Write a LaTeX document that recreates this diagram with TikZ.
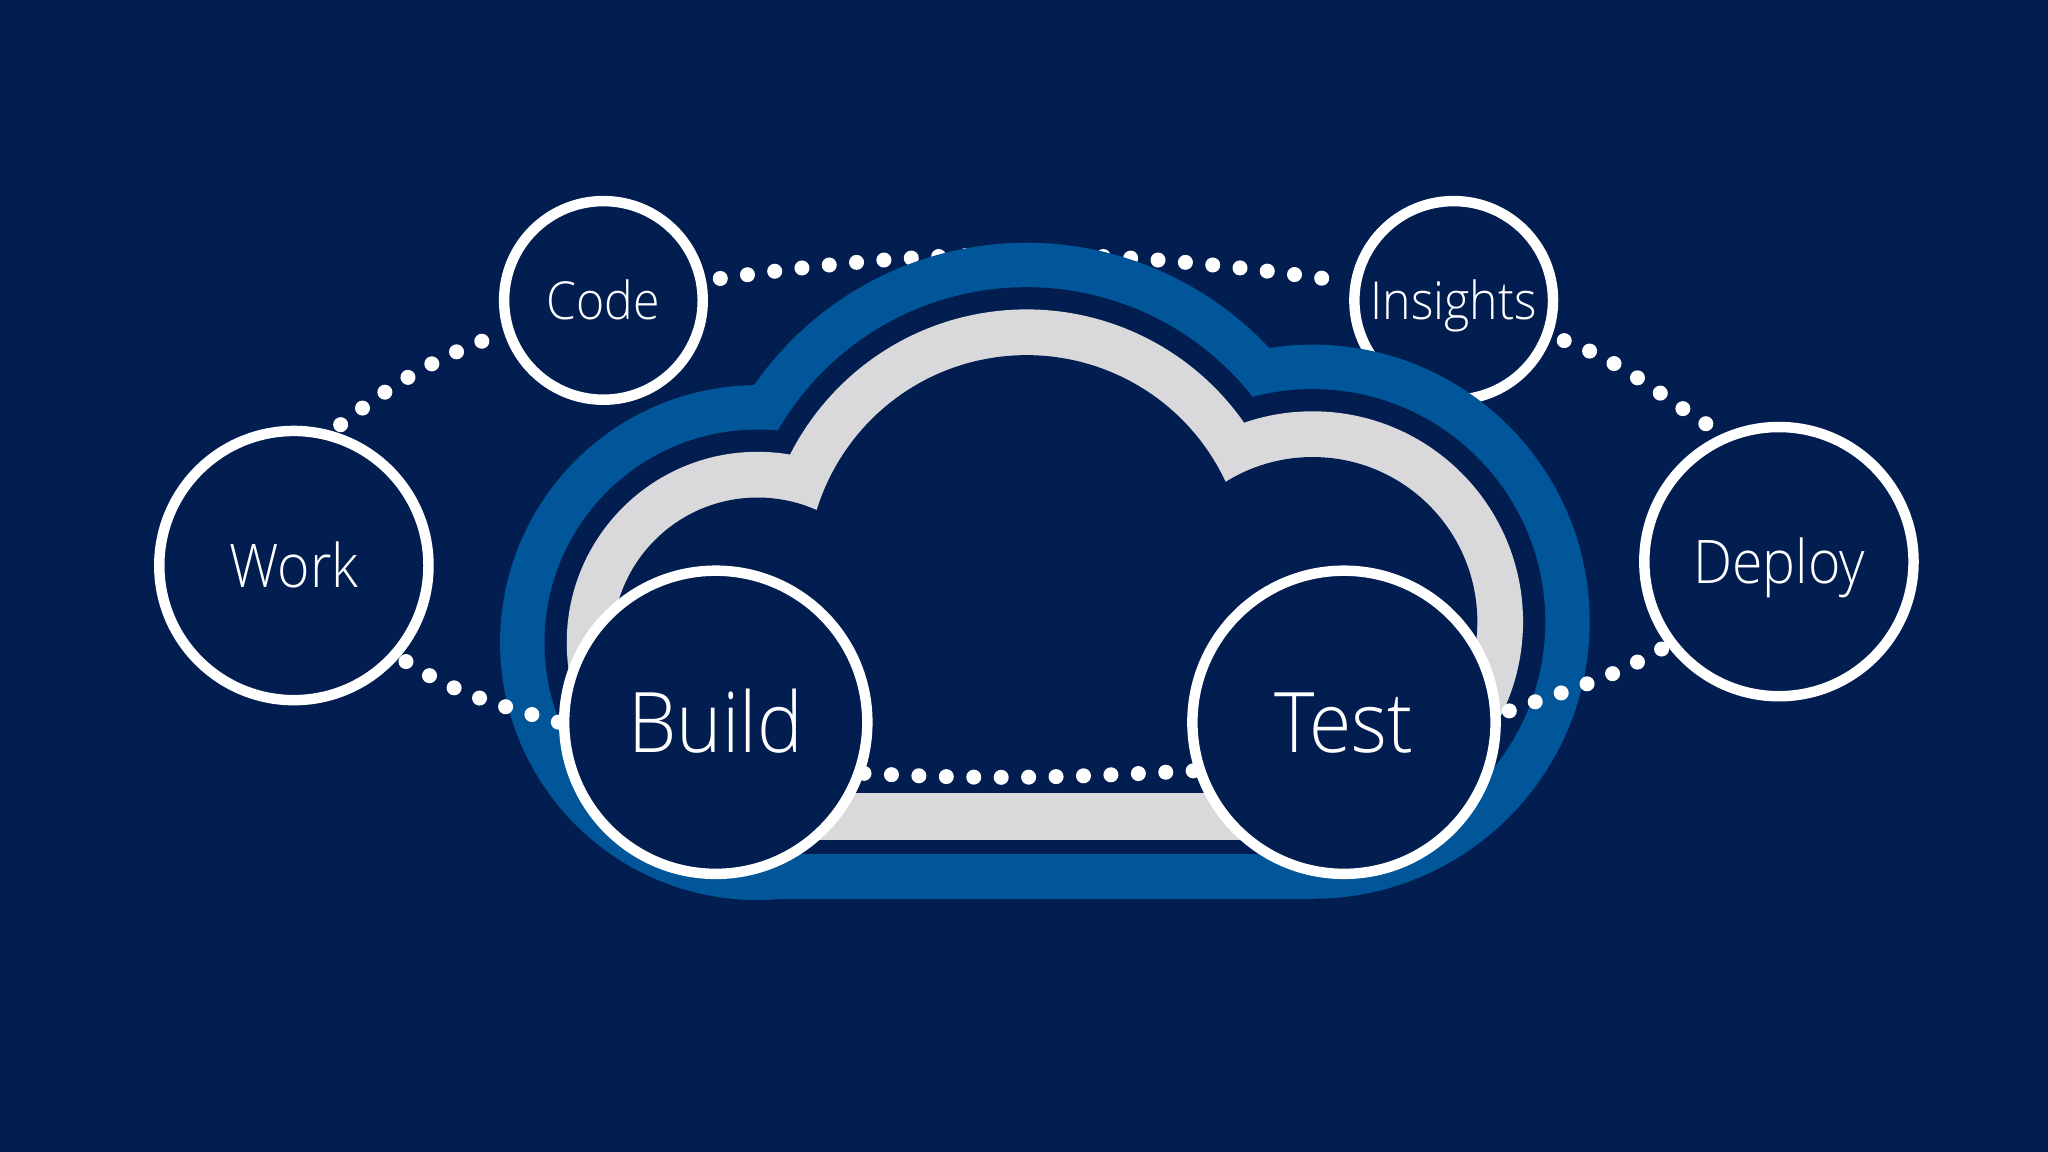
\documentclass[tikz,border=0pt]{standalone}
\usepackage{fontspec}
\IfFontExistsTF{Open Sans Light}{\setmainfont{Open Sans Light}[FakeStretch=0.92]}{\setmainfont{Open Sans}[FakeStretch=0.92]}
\definecolor{bgnavy}{RGB}{2,30,80}
\definecolor{cloudblue}{RGB}{0,86,152}
\definecolor{cloudgray}{RGB}{217,217,220}
\pgfdeclarelayer{lzero}
\pgfdeclarelayer{lone}
\pgfdeclarelayer{ltwo}
\pgfdeclarelayer{lthree}
\pgfsetlayers{lzero,lone,ltwo,lthree,main}
\tikzset{
  dotline/.style={white, line width=0.115cm, line cap=round, dash pattern=on 0pt off 0.21cm},
  stage/.style={circle, draw=white, line width=0.08cm, fill=bgnavy, text=white, inner sep=0pt, text depth=0pt},
  smallstage/.style={stage, minimum size=1.52cm, font=\fontsize{11.4}{13}\selectfont, text height=8.1pt},
  midstage/.style={stage, minimum size=2.06cm, font=\fontsize{13.1}{15}\selectfont, text height=9.35pt},
  bigstage/.style={stage, minimum size=2.32cm, font=\fontsize{18.2}{20}\selectfont, text height=13pt},
}
\newcommand\cloudlayer[5]{%
  \fill[#1] (786,-440) ++(185:#2) arc[start angle=185, end angle=-5, radius=#2] -- cycle;
  \fill[#1] (580,-492) circle[radius=#3];
  \fill[#1] (1005,-476) circle[radius=#4];
  \fill[#1] (580,-410) rectangle (1005,#5);
}
\begin{document}
\begin{tikzpicture}[x=0.01cm,y=0.01cm]
\begin{pgfonlayer}{lzero}
  \fill[bgnavy] (0,0) rectangle (1568,-882);
\end{pgfonlayer}
\useasboundingbox (0,0) rectangle (1568,-882);
% stages
\node[smallstage] (code) at (462,-230) {Code};
\node[midstage] (work) at (225,-433) {Work};
\node[midstage] (deploy) at (1362,-430) {Deploy};
\node[bigstage] (build) at (548,-553) {Build};
\node[bigstage] (test) at (1029,-553) {Test};
\begin{pgfonlayer}{lone}
  \node[smallstage] (insights) at (1113,-230) {Insights};
\end{pgfonlayer}
% cloud
\begin{pgfonlayer}{ltwo}
  \cloudlayer{cloudblue}{2.54cm}{1.97cm}{2.12cm}{-688}
  \cloudlayer{bgnavy}{2.20cm}{1.63cm}{1.78cm}{-654}
  \cloudlayer{cloudgray}{2.03cm}{1.46cm}{1.61cm}{-643}
  \cloudlayer{bgnavy}{1.68cm}{1.11cm}{1.26cm}{-607}
\end{pgfonlayer}
% connectors
\begin{pgfonlayer}{lzero}
  \draw[dotline, shorten <=0.11cm, shorten >=0.11cm] (code.11) to[out=8,in=172] (insights.170);
\end{pgfonlayer}
\begin{pgfonlayer}{lthree}
  \draw[dotline, shorten <=0.08cm, shorten >=0.15cm] (work.74) to[out=38,in=201] (code.198);
  \draw[dotline, shorten <=0.1cm, shorten >=0.12cm] (insights.-20) to[out=-20,in=148] (deploy.114);
  \draw[dotline, shorten <=0.05cm, shorten >=0.06cm] (deploy.217) to[out=210,in=20] (test.3);
  \draw[dotline] (build.-19) to[out=-3,in=183] (test.198);
  \draw[dotline, shorten <=0.06cm] (work.-41) to[out=-33,in=164] (build.180);
\end{pgfonlayer}
\end{tikzpicture}
\end{document}
